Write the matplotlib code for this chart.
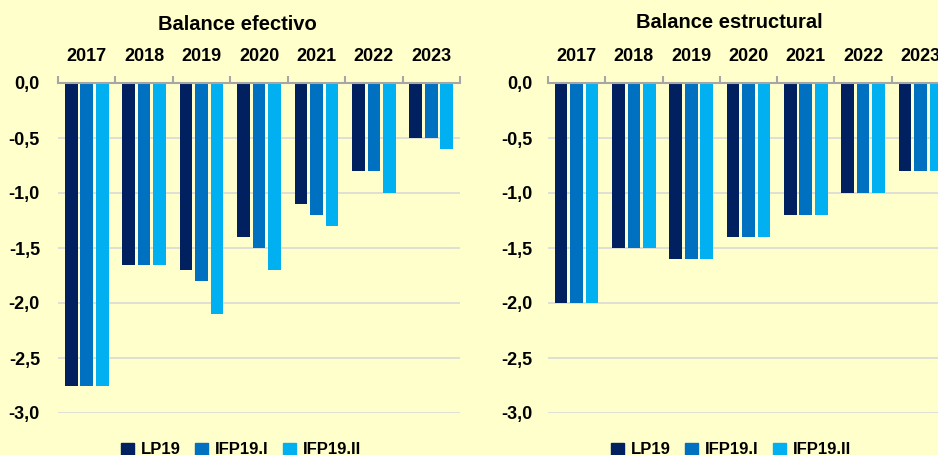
import matplotlib
matplotlib.use("Agg")
import matplotlib.pyplot as plt
import matplotlib.patches as mpatches
import numpy as np

plt.rcParams['font.family'] = ['Liberation Sans', 'DejaVu Sans']
plt.rcParams['font.weight'] = 'bold'

years = ['2017', '2018', '2019', '2020', '2021', '2022', '2023']
series = ['LP19', 'IFP19.I', 'IFP19.II']
colors = ['#002060', '#0070C0', '#00B0F0']

# Balance efectivo
efectivo_lp19 = [-2.75, -1.65, -1.7, -1.4, -1.1, -0.8, -0.5]
efectivo_ifp1 = [-2.75, -1.65, -1.8, -1.5, -1.2, -0.8, -0.5]
efectivo_ifp2 = [-2.75, -1.65, -2.1, -1.7, -1.3, -1.0, -0.6]

# Balance estructural
estructural_lp19 = [-2.0, -1.5, -1.6, -1.4, -1.2, -1.0, -0.8]
estructural_ifp1 = [-2.0, -1.5, -1.6, -1.4, -1.2, -1.0, -0.8]
estructural_ifp2 = [-2.0, -1.5, -1.6, -1.4, -1.2, -1.0, -0.8]

W, H = 938, 455
BG = '#FFFFCC'

fig = plt.figure(figsize=(W / 100, H / 100), dpi=100, facecolor=BG)


def panel(x0, x1, title, title_x, title_y, vals, ypad, legend_x):
    ax = fig.add_axes([x0 / W, 1 - 413 / H, (x1 - x0) / W, 330 / H])
    ax.set_facecolor(BG)
    x = np.arange(len(years))
    pitch, bw = 0.27, 0.22
    for k, (v, c) in enumerate(zip(vals, colors)):
        ax.bar(x + (k - 1) * pitch, v, bw, color=c, zorder=3, label=series[k])

    ax.set_xlim(-0.5, len(years) - 0.5)
    ax.set_ylim(-3.0, 0)
    ax.set_yticks(np.arange(-3.0, 0.01, 0.5))
    ax.set_yticklabels([f'{t:.1f}'.replace('.', ',') for t in np.arange(-3.0, 0.01, 0.5)])
    ax.yaxis.grid(True, color='#D9D9D9', linewidth=1.2, zorder=0)
    ax.tick_params(axis='y', length=0, pad=ypad, labelsize=13)

    ax.xaxis.tick_top()
    ax.set_xticks(x)
    ax.set_xticklabels(years)
    ax.set_xticks(np.arange(-0.5, len(years)), minor=True)
    ax.tick_params(axis='x', which='major', length=0, pad=13, labelsize=13)
    ax.tick_params(axis='x', which='minor', length=5, width=1.5, color='#A6A6A6')

    for s in ['left', 'right', 'bottom']:
        ax.spines[s].set_visible(False)
    ax.spines['top'].set_color('#A6A6A6')
    ax.spines['top'].set_linewidth(1.5)
    ax.spines['top'].set_zorder(4)

    fig.text(title_x / W, 1 - title_y / H, title, ha='center', va='center',
             fontsize=14.5, fontweight='bold')

    handles = [mpatches.Patch(color=c, label=s) for c, s in zip(colors, series)]
    fig.legend(handles=handles, loc='center', bbox_to_anchor=(legend_x / W, 1 - 450 / H),
               ncol=3, frameon=False, fontsize=12, handlelength=0.75, handleheight=0.75,
               handletextpad=0.4, columnspacing=0.9, borderpad=0)
    return ax


panel(58, 460, 'Balance efectivo', 237, 25,
      [efectivo_lp19, efectivo_ifp1, efectivo_ifp2], 13, 241)
panel(548, 949, 'Balance estructural', 729, 22,
      [estructural_lp19, estructural_ifp1, estructural_ifp2], 11, 731)

fig.savefig('out.png', dpi=100, facecolor=BG)
